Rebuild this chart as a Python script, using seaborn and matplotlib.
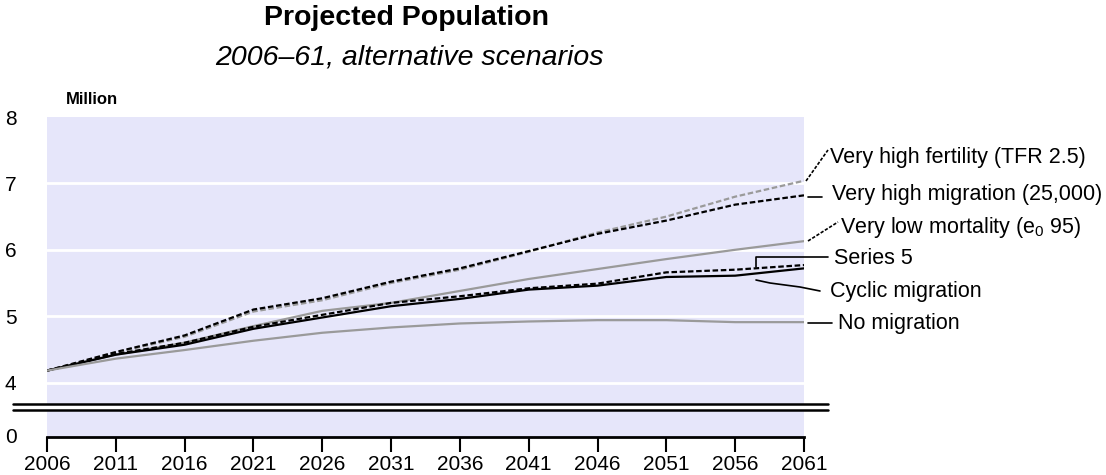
import matplotlib
matplotlib.use("Agg")
import matplotlib.pyplot as plt
import matplotlib.transforms as mtransforms
import seaborn as sns
import pandas as pd

years = [2006, 2011, 2016, 2021, 2026, 2031, 2036, 2041, 2046, 2051, 2056, 2061]
very_high_fertility = [4.18, 4.45, 4.69, 5.07, 5.24, 5.50, 5.70, 5.97, 6.26, 6.50, 6.80, 7.04]
very_high_migration = [4.18, 4.46, 4.71, 5.10, 5.27, 5.52, 5.72, 5.98, 6.24, 6.44, 6.68, 6.82]
very_low_mortality = [4.18, 4.42, 4.60, 4.85, 5.08, 5.20, 5.38, 5.56, 5.71, 5.86, 6.00, 6.13]
series_5 = [4.18, 4.42, 4.57, 4.81, 4.98, 5.15, 5.26, 5.40, 5.46, 5.59, 5.61, 5.72]
cyclic_migration = [4.18, 4.43, 4.60, 4.84, 5.02, 5.20, 5.30, 5.42, 5.49, 5.66, 5.70, 5.77]
no_migration = [4.18, 4.36, 4.49, 4.63, 4.75, 4.83, 4.89, 4.92, 4.94, 4.94, 4.91, 4.91]

series_names = ["Very high fertility (TFR 2.5)", "Very high migration (25,000)",
                "Very low mortality (e$_0$ 95)", "Series 5", "Cyclic migration", "No migration"]
series_values = [very_high_fertility, very_high_migration, very_low_mortality,
                 series_5, cyclic_migration, no_migration]
y_ticks = [4, 5, 6, 7, 8]

sns.set_style("white")
plt.rcParams["font.family"] = ["Liberation Sans", "DejaVu Sans"]
plt.rcParams["mathtext.default"] = "regular"
plt.rcParams["text.color"] = "black"
plt.rcParams["xtick.color"] = "black"
plt.rcParams["ytick.color"] = "black"

W, H = 1106, 475
fig = plt.figure(figsize=(W / 100, H / 100), dpi=100)

# axes placed in pixel coords of the reference
x0, x1, ytop, ybot = 47, 804, 117, 437
ax = fig.add_axes([x0 / W, 1 - ybot / H, (x1 - x0) / W, (ybot - ytop) / H])
ax.set_facecolor("#e6e6fa")
ax.set_xlim(2006, 2061)
ax.set_ylim(3.18, 8.0)

for v in [4, 5, 6, 7]:
    ax.axhline(v, color="white", lw=2, zorder=1)

df = pd.DataFrame({"year": years})
dash = (0, (2.5, 1.2))
styles = [("#9a9a9a", dash), ("black", dash), ("#9a9a9a", "-"),
          ("black", "-"), ("black", dash), ("#9a9a9a", "-")]
for name, vals, (col, ls) in zip(series_names, series_values, styles):
    df[name] = vals
    sns.lineplot(data=df, x="year", y=name, ax=ax, color=col, linestyle=ls,
                 lw=1.6, zorder=3)

# axis break
blend = mtransforms.blended_transform_factory(fig.transFigure, ax.transData)
ax.fill_between([13 / W, 828 / W], 3.58, 3.68, color="white", transform=blend,
                clip_on=False, zorder=4)
for yb in [3.58, 3.68]:
    ax.plot([13 / W, 828 / W], [yb, yb], color="black", lw=1.8, transform=blend,
            clip_on=False, zorder=5)

# ticks
ax.set_yticks(y_ticks + [3.21])
ax.set_yticklabels([str(t) for t in y_ticks] + ["0"])
ax.set_xticks(years)
ax.set_xticklabels([str(y) for y in years])
ax.tick_params(axis="y", length=0, pad=22, labelsize=15)
ax.tick_params(axis="x", length=11, width=1.5, color="black", direction="out",
               pad=2, labelsize=15, bottom=True)
for s in ["top", "left", "right"]:
    ax.spines[s].set_visible(False)
ax.spines["bottom"].set_color("black")
ax.spines["bottom"].set_linewidth(2)
ax.set_xlabel("")
ax.set_ylabel("")

# labels with leader lines (figure pixel coords)
def px(x, y):
    return x / W, 1 - y / H

labels = [
    ("Very high fertility (TFR 2.5)", 830, 158, [(806, 181), (828, 150)], (0, (2, 1))),
    ("Very high migration (25,000)", 832, 194, [(808, 197), (822, 197)], "-"),
    ("Very low mortality (e$_0$ 95)", 840, 227, [(808, 241), (838, 222)], (0, (2, 1))),
    ("Series 5", 834, 258, [(756, 267), (756, 257), (828, 257)], "-"),
    ("Cyclic migration", 830, 292, [(756, 280), (770, 283), (800, 287), (820, 291)], "-"),
    ("No migration", 838, 324, [(808, 323), (832, 323)], "-"),
]
for text, tx, ty, pts, ls in labels:
    xs = [px(*p)[0] for p in pts]
    ys = [px(*p)[1] for p in pts]
    fig.add_artist(plt.Line2D(xs, ys, color="black", lw=1.2, linestyle=ls))
    fig.text(*px(tx, ty), text, fontsize=15.5, va="center", ha="left")

fig.text(*px(407, 18), "Projected Population", fontsize=20.5, fontweight="bold",
         ha="center", va="center")
fig.text(*px(409, 58), "2006\u201361, alternative scenarios", fontsize=20.5,
         style="italic", ha="center", va="center")
fig.text(*px(66, 100), "Million", fontsize=12, fontweight="bold", ha="left",
         va="center")

fig.savefig("out.png", dpi=100)
